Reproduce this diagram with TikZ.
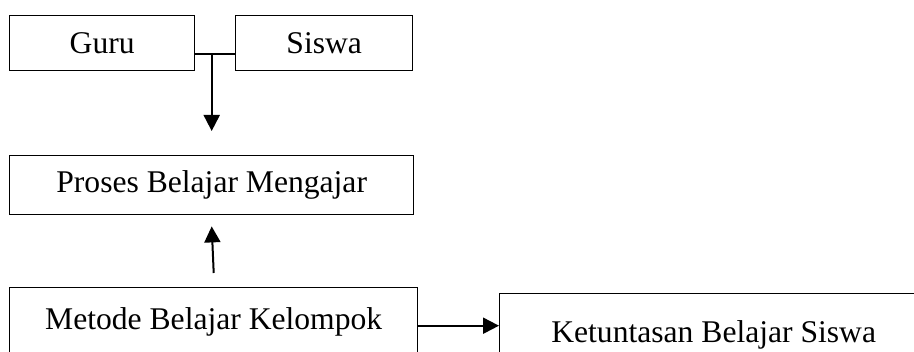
\documentclass[tikz,border=0pt]{standalone}
\usepackage{fontspec}
\setmainfont{Liberation Serif}
\usetikzlibrary{arrows.meta, positioning}

\begin{document}
\begin{tikzpicture}[
            x = 0.5pt, y = -0.5pt, % one unit per pixel, y runs downwards
            > = {Triangle[length = 8pt, width = 8pt]}, % arrow head style
            line width = 0.7pt % line style
        ]

        \tikzstyle{box}=[
            draw = black,
            rectangle,
            inner sep = 0pt,
            anchor = north west,
            font = \fontsize{15.8}{19}\selectfont
        ]
        \tikzstyle{link}=[->, line width = 1pt]

        \useasboundingbox (0,0) rectangle (914,352);
        \clip (0,0) rectangle (914,352);

        \node[box, minimum width = 92.5pt, minimum height = 27.5pt] (guru) at (9,15) {Guru};
        \node[box, minimum width = 88.5pt, minimum height = 27.5pt] (siswa) at (235,15) {Siswa};
        \node[box, minimum width = 202pt, minimum height = 29.5pt] (proses) at (9,155) {Proses Belajar Mengajar};
        \node[box, minimum width = 204pt, minimum height = 34pt] (metode) at (9,287) {Metode Belajar Kelompok};
        \node[box, minimum width = 214pt, minimum height = 41.5pt] (ketuntasan) at (499,293) {Ketuntasan Belajar Siswa};

        \coordinate (gs) at ([yshift=-5.4pt]guru.east);
        \coordinate (join) at (gs -| proses.north);
        \coordinate (tip) at ([yshift=12pt]proses.north);
        \coordinate (tail) at ([yshift=-2pt]metode.east);

        \draw (gs) -- (gs -| siswa.west);
        \draw[link] (join) -- (tip);
        \draw[link] ([yshift=7pt]metode.north) -- ([yshift=-5.5pt]proses.south);
        \draw[link] (tail) -- (tail -| ketuntasan.west);
    \end{tikzpicture}
\end{document}
